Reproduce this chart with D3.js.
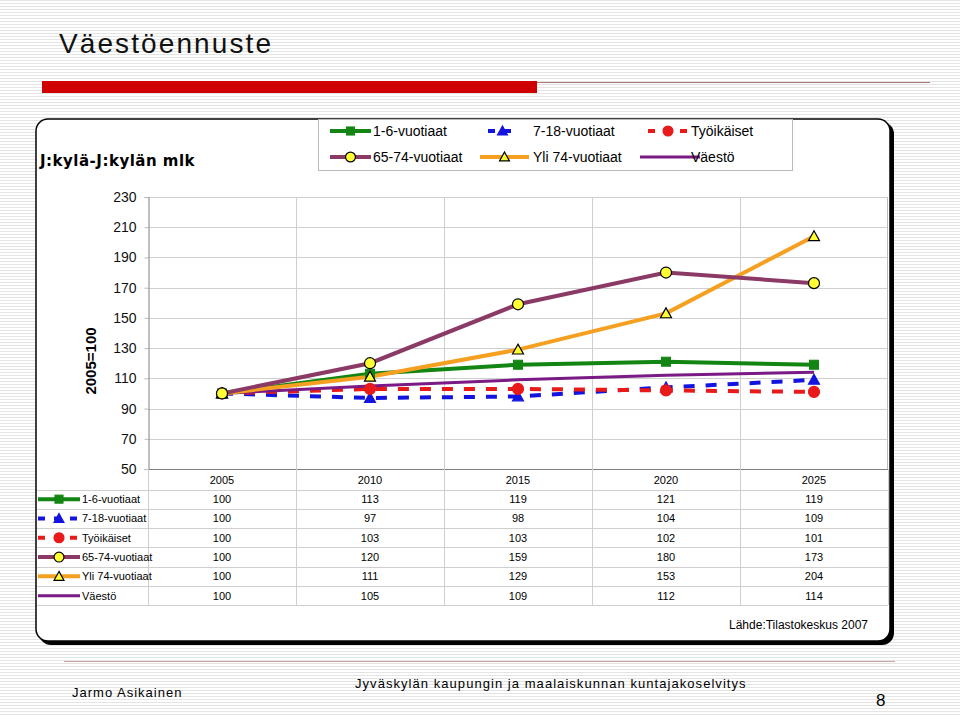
<!DOCTYPE html>
<html>
<head>
<meta charset="utf-8">
<script src="https://cdn.jsdelivr.net/npm/d3@7"></script>
<style>
  body { margin: 0; padding: 0; background: #fff; }
  svg { display: block; font-family: "Liberation Sans", Arial, sans-serif; }
</style>
</head>
<body>
<svg id="chart" width="960" height="717"></svg>
<script>
// DATA
var years = ["2005", "2010", "2015", "2020", "2025"];
var yTicks = [50, 70, 90, 110, 130, 150, 170, 190, 210, 230];
var seriesNames = ["1-6-vuotiaat", "7-18-vuotiaat", "Työikäiset", "65-74-vuotiaat", "Yli 74-vuotiaat", "Väestö"];
var v1_6 = [100, 113, 119, 121, 119];
var v7_18 = [100, 97, 98, 104, 109];
var vTyoikaiset = [100, 103, 103, 102, 101];
var v65_74 = [100, 120, 159, 180, 173];
var vYli74 = [100, 111, 129, 153, 204];
var vVaesto = [100, 105, 109, 112, 114];

// Series styles (order matches seriesNames)
var styles = [
    { values: v1_6, color: "#138513", width: 4, dash: null, marker: "square", mfill: "#138513", mstroke: "#138513" },
    { values: v7_18, color: "#1414e0", width: 4, dash: "11,11", marker: "triangle", mfill: "#1414e0", mstroke: "#1414e0" },
    { values: vTyoikaiset, color: "#e81a1a", width: 4, dash: "11,11", marker: "circle", mfill: "#e81a1a", mstroke: "#e81a1a" },
    { values: v65_74, color: "#8b3a66", width: 4, dash: null, marker: "circle", mfill: "#ffff33", mstroke: "#000" },
    { values: vYli74, color: "#f5a020", width: 4, dash: null, marker: "triangle", mfill: "#ffff33", mstroke: "#000" },
    { values: vVaesto, color: "#7a1a84", width: 3, dash: null, marker: null }
];

var svg = d3.select("#chart");

// Striped background
var defs = svg.append("defs");
var pat = defs.append("pattern")
    .attr("id", "stripes")
    .attr("width", 4).attr("height", 3)
    .attr("patternUnits", "userSpaceOnUse");
pat.append("rect").attr("width", 4).attr("height", 3).attr("fill", "#ffffff");
pat.append("rect").attr("width", 4).attr("height", 1).attr("fill", "#e4e4e4");
svg.append("rect").attr("width", 960).attr("height", 717).attr("fill", "url(#stripes)");

// Slide title
svg.append("text")
    .attr("x", 59).attr("y", 53)
    .attr("font-size", 28).attr("letter-spacing", 2.1)
    .attr("fill", "#111")
    .text("Väestöennuste");
svg.append("line")
    .attr("x1", 537).attr("x2", 930).attr("y1", 82.5).attr("y2", 82.5)
    .attr("stroke", "#a87a7a").attr("stroke-width", 1);
svg.append("rect")
    .attr("x", 42).attr("y", 81).attr("width", 495).attr("height", 12)
    .attr("fill", "#d00000");

// Frame
svg.append("rect")
    .attr("x", 39).attr("y", 122).attr("width", 855).attr("height", 523)
    .attr("rx", 12).attr("fill", "#000");
svg.append("rect")
    .attr("x", 36).attr("y", 119).attr("width", 854).attr("height", 522)
    .attr("rx", 12).attr("fill", "#fff").attr("stroke", "#000").attr("stroke-width", 1.5);

// Frame title
svg.append("text")
    .attr("x", 40).attr("y", 166)
    .attr("font-size", 15).attr("font-weight", "bold").attr("letter-spacing", 0.5)
    .attr("font-family", "DejaVu Sans, sans-serif")
    .text("J:kylä-J:kylän mlk");

// Scales
var plot = { left: 148, right: 888, top: 197, bottom: 469 };
var x = d3.scaleBand().domain(years).range([plot.left, plot.right]);
var y = d3.scaleLinear().domain([50, 230]).range([plot.bottom, plot.top]);

// Grid
var g = svg.append("g");
g.selectAll(".hgrid").data(yTicks.slice(1))
    .enter().append("line")
    .attr("x1", plot.left).attr("x2", plot.right)
    .attr("y1", d => Math.round(y(d)) + 0.5).attr("y2", d => Math.round(y(d)) + 0.5)
    .attr("stroke", "#cfcfcf");
g.selectAll(".vgrid").data(years.slice(1))
    .enter().append("line")
    .attr("x1", d => x(d) + 0.5).attr("x2", d => x(d) + 0.5)
    .attr("y1", plot.top).attr("y2", plot.bottom)
    .attr("stroke", "#cfcfcf");
g.append("line")
    .attr("x1", plot.right - 0.5).attr("x2", plot.right - 0.5)
    .attr("y1", plot.top).attr("y2", plot.bottom)
    .attr("stroke", "#bbb");

// Y axis
var yAxis = svg.append("g")
    .attr("transform", "translate(" + (plot.left + 0.5) + ",0)")
    .call(d3.axisLeft(y).tickValues(yTicks).tickSize(4).tickPadding(8));
yAxis.select(".domain").attr("stroke", "#808080");
yAxis.selectAll(".tick line").attr("stroke", "#bbb");
yAxis.selectAll(".tick text")
    .attr("font-size", 14).attr("fill", "#111")
    .attr("font-family", "Liberation Sans, Arial, sans-serif");

// X baseline
svg.append("line")
    .attr("x1", plot.left).attr("x2", plot.right)
    .attr("y1", plot.bottom + 0.5).attr("y2", plot.bottom + 0.5)
    .attr("stroke", "#808080");

// Y label
svg.append("text")
    .attr("transform", "translate(96," + ((plot.top + plot.bottom) / 2 + 28) + ") rotate(-90)")
    .attr("text-anchor", "middle")
    .attr("font-size", 15).attr("font-weight", "bold")
    .text("2005=100");

// Markers
function drawMarker(sel, type, cx, cy, s, sc) {
    if (type === "square") {
        sel.append("rect")
            .attr("x", cx - sc * 4.5).attr("y", cy - sc * 4.5)
            .attr("width", sc * 9).attr("height", sc * 9)
            .attr("fill", s.mfill).attr("stroke", s.mstroke);
    } else if (type === "circle") {
        sel.append("circle")
            .attr("cx", cx).attr("cy", cy).attr("r", sc * 5.5)
            .attr("fill", s.mfill).attr("stroke", s.mstroke).attr("stroke-width", 1.2);
    } else if (type === "triangle") {
        var h = sc * 5.5;
        sel.append("path")
            .attr("d", "M" + cx + "," + (cy - h) + "L" + (cx + h) + "," + (cy + h * 0.8) + "L" + (cx - h) + "," + (cy + h * 0.8) + "Z")
            .attr("fill", s.mfill).attr("stroke", s.mstroke).attr("stroke-width", 1.2);
    }
}

var line = d3.line()
    .x((d, i) => x(years[i]) + x.bandwidth() / 2)
    .y(d => y(d));

// Draw order: dashed first, then solid
var order = [1, 2, 5, 0, 4, 3];
order.forEach(function(k) {
    var s = styles[k];
    svg.append("path")
        .datum(s.values)
        .attr("fill", "none")
        .attr("stroke", s.color)
        .attr("stroke-width", s.width)
        .attr("stroke-dasharray", s.dash)
        .attr("d", line);
});
order.forEach(function(k) {
    var s = styles[k];
    if (!s.marker) return;
    var mg = svg.append("g");
    s.values.forEach(function(v, i) {
        drawMarker(mg, s.marker, x(years[i]) + x.bandwidth() / 2, y(v), s, 1);
    });
});

// Legend symbol
function legendSymbol(sel, s, x0, x1, cy) {
    sel.append("line")
        .attr("x1", x0).attr("x2", x1).attr("y1", cy).attr("y2", cy)
        .attr("stroke", s.color).attr("stroke-width", s.width)
        .attr("stroke-dasharray", s.dash ? "7,9" : null);
    if (s.marker) drawMarker(sel, s.marker, (x0 + x1) / 2, cy, s, 0.9);
}

// Top legend
var leg = svg.append("g");
leg.append("rect")
    .attr("x", 318.5).attr("y", 119.5).attr("width", 474).attr("height", 51)
    .attr("fill", "#fff").attr("stroke", "#bbb");
var legCols = [330, 488, 648];
var legText = [373, 533, 691];
seriesNames.forEach(function(name, i) {
    var col = i % 3, row = Math.floor(i / 3);
    var cy = 131 + row * 26;
    var x0 = legCols[col];
    var x1 = col === 0 ? 371 : (col === 1 ? 517 : 688);
    if (col === 0 || row === 0) legendSymbol(leg, styles[i], x0, x1, cy);
    else legendSymbol(leg, styles[i], x0 - 8, x1 + 12, cy);
    leg.append("text")
        .attr("x", legText[col])
        .attr("y", cy + 5)
        .attr("font-size", 14)
        .text(name);
});

// Data table
var rowTop = 489.5, rowH = 19.3;
var tbl = svg.append("g");
tbl.selectAll(".yr").data(years).enter().append("text")
    .attr("x", d => x(d) + x.bandwidth() / 2)
    .attr("y", 484)
    .attr("text-anchor", "middle")
    .attr("font-size", 11)
    .text(d => d);
d3.range(seriesNames.length + 1).forEach(function(r) {
    tbl.append("line")
        .attr("x1", 37).attr("x2", plot.right)
        .attr("y1", Math.round(rowTop + r * rowH) + 0.5).attr("y2", Math.round(rowTop + r * rowH) + 0.5)
        .attr("stroke", "#cfcfcf");
});
years.concat(["end"]).forEach(function(d, i) {
    var xx = i < years.length ? x(d) : plot.right;
    tbl.append("line")
        .attr("x1", xx + 0.5).attr("x2", xx + 0.5)
        .attr("y1", plot.bottom).attr("y2", Math.round(rowTop + seriesNames.length * rowH))
        .attr("stroke", "#cfcfcf");
});
seriesNames.forEach(function(name, r) {
    var s = styles[r];
    var cy = rowTop + r * rowH + rowH / 2;
    legendSymbol(tbl, s, 38, 80, cy);
    tbl.append("text")
        .attr("x", 82).attr("y", cy + 4)
        .attr("font-size", 11)
        .text(name);
    s.values.forEach(function(v, i) {
        tbl.append("text")
            .attr("x", x(years[i]) + x.bandwidth() / 2)
            .attr("y", cy + 4)
            .attr("text-anchor", "middle")
            .attr("font-size", 11)
            .text(v);
    });
});

// Source
svg.append("text")
    .attr("x", 868).attr("y", 629)
    .attr("text-anchor", "end")
    .attr("font-size", 12)
    .text("Lähde:Tilastokeskus 2007");

// Footer
svg.append("line")
    .attr("x1", 64).attr("x2", 895).attr("y1", 661.5).attr("y2", 661.5)
    .attr("stroke", "#c9a5a5");
svg.append("text")
    .attr("x", 72).attr("y", 697)
    .attr("font-size", 13).attr("letter-spacing", 1)
    .text("Jarmo Asikainen");
svg.append("text")
    .attr("x", 355).attr("y", 688)
    .attr("font-size", 13).attr("letter-spacing", 1.05)
    .text("Jyväskylän kaupungin ja maalaiskunnan kuntajakoselvitys");
svg.append("text")
    .attr("x", 876).attr("y", 706)
    .attr("font-size", 17)
    .text("8");
</script>
</body>
</html>
